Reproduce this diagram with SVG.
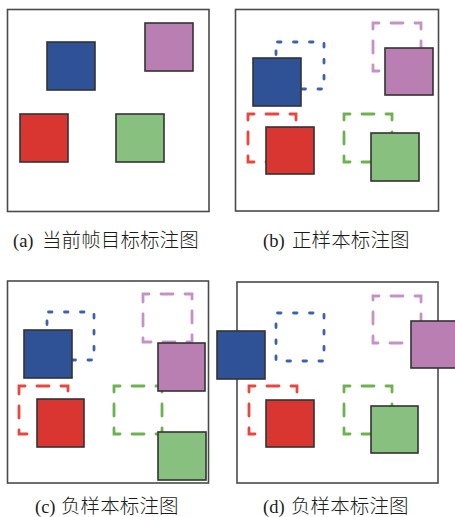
<svg xmlns="http://www.w3.org/2000/svg" width="455" height="517" viewBox="0 0 455 517">
  <style>
    .frame { fill: #ffffff; stroke: #4a4a4a; stroke-width: 1.6; }
    .box { stroke: #333333; stroke-width: 1.6; }
    .blue { fill: #2f5296; }
    .pink { fill: #b97fb2; }
    .red { fill: #d93531; }
    .green { fill: #88c07f; }
    .dot { fill: none; stroke-width: 2.8; stroke-linecap: round; stroke-dasharray: 3.5 12.5; stroke-dashoffset: -1.5; }
    .dash { fill: none; stroke-width: 2.8; stroke-linecap: round; stroke-dasharray: 12 12; stroke-dashoffset: 6; }
    .dblue { stroke: #3d62ad; }
    .dpink { stroke: #c592c4; }
    .dred { stroke: #e8473e; }
    .dgreen { stroke: #6cb24f; }
    .cap { font-family: "Liberation Serif", "Noto Sans CJK SC", serif; font-size: 18.5px; fill: #1a1a1a; }
    .cjk { font-size: 19.5px; font-weight: 300; letter-spacing: 0.1px; }
  </style>

  <!-- (a) annotated boxes of the current frame -->
  <g id="panel-a">
    <rect class="frame" x="7.5" y="9.5" width="201.5" height="202"/>
    <rect class="box blue" x="47" y="42" width="48" height="48"/>
    <rect class="box pink" x="145" y="23" width="48" height="48"/>
    <rect class="box red" x="20" y="114" width="48" height="48"/>
    <rect class="box green" x="116" y="114" width="48" height="48"/>
    <text class="cap" x="13" y="247">(a)<tspan class="cjk" x="42">当前帧目标标注图</tspan></text>
  </g>

  <!-- (b) positive samples -->
  <g id="panel-b">
    <rect class="frame" x="235.5" y="9.5" width="203" height="201.5"/>
    <rect class="dot dblue" x="276" y="42" width="48" height="47"/>
    <rect class="dash dpink" x="373" y="23" width="48" height="48"/>
    <rect class="dash dred" x="248" y="114" width="48" height="48"/>
    <rect class="dash dgreen" x="344" y="114" width="48" height="48"/>
    <rect class="box blue" x="253" y="58" width="48" height="48"/>
    <rect class="box pink" x="385" y="48" width="48" height="47"/>
    <rect class="box red" x="266" y="127" width="48" height="47"/>
    <rect class="box green" x="371" y="133" width="48" height="48"/>
    <text class="cap" x="263" y="247">(b)<tspan class="cjk" x="292">正样本标注图</tspan></text>
  </g>

  <!-- (c) negative samples -->
  <g id="panel-c">
    <rect class="frame" x="7.5" y="281" width="201" height="202"/>
    <rect class="dot dblue" x="47" y="312" width="47" height="48"/>
    <rect class="dash dpink" x="143" y="294" width="49" height="48"/>
    <rect class="dash dred" x="19" y="386" width="49" height="48"/>
    <rect class="dash dgreen" x="114" y="386" width="48" height="48"/>
    <rect class="box blue" x="24" y="330" width="48" height="48"/>
    <rect class="box pink" x="158" y="343" width="47" height="48"/>
    <rect class="box red" x="37" y="399" width="47" height="48"/>
    <rect class="box green" x="158" y="432" width="48" height="48"/>
    <text class="cap" x="35" y="513">(c)<tspan class="cjk" x="61">负样本标注图</tspan></text>
  </g>

  <!-- (d) negative samples, boxes pushed across the border -->
  <g id="panel-d">
    <rect class="frame" x="237" y="282" width="201" height="201"/>
    <rect class="dot dblue" x="276" y="313" width="48" height="48"/>
    <rect class="dash dpink" x="373" y="296" width="48" height="47"/>
    <rect class="dash dred" x="249" y="386" width="48" height="48"/>
    <rect class="dash dgreen" x="344" y="386" width="48" height="48"/>
    <rect class="box blue" x="217" y="331" width="48" height="48"/>
    <rect class="box pink" x="411" y="321" width="48" height="47"/>
    <rect class="box red" x="266" y="400" width="48" height="47"/>
    <rect class="box green" x="371" y="406" width="47" height="47"/>
    <text class="cap" x="263" y="513">(d)<tspan class="cjk" x="291">负样本标注图</tspan></text>
  </g>
</svg>
